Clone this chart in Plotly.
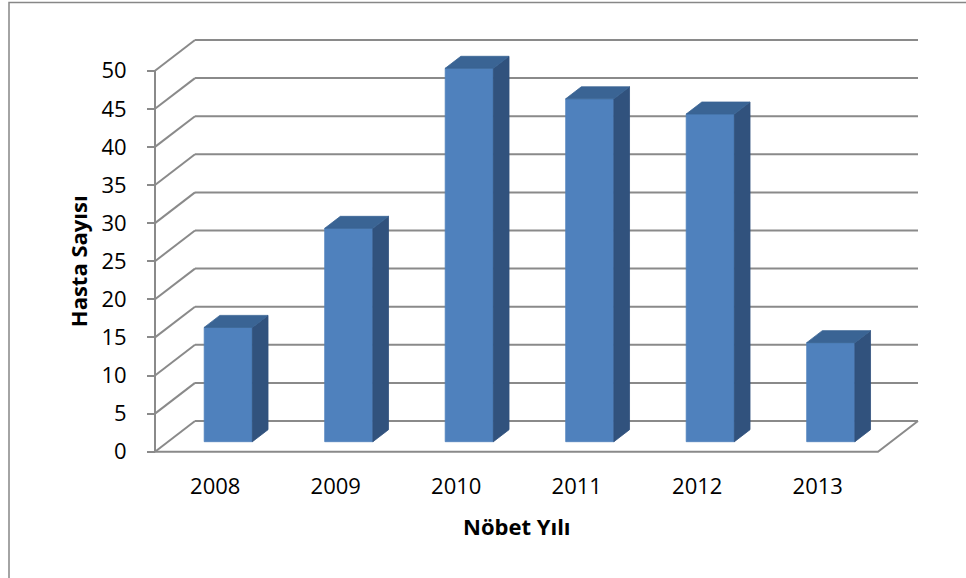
import plotly.graph_objects as go

# Data
years = ["2008", "2009", "2010", "2011", "2012", "2013"]
patients = [15, 28, 49, 45, 43, 13]
y_ticks = list(range(0, 55, 5))
x_title = "Nöbet Yılı"
y_title = "Hasta Sayısı"

# Canvas / scale setup (pixels per data unit) for an oblique 3D look
W, H = 966, 578
ML, MR, MT, MB = 143, 34, 36, 123
PX_X = 120.5          # pixels per category
PX_Y = 7.62           # pixels per patient
ORIGIN_X, ORIGIN_Y = 155, 451.7   # pixel position of (0, 0) on the front plane
plot_w = W - ML - MR
plot_h = H - MT - MB
x0 = (ML - ORIGIN_X) / PX_X
x1 = x0 + plot_w / PX_X
y0 = -((H - MB) - ORIGIN_Y) / PX_Y
y1 = y0 + plot_h / PX_Y

DX = 40 / PX_X        # depth offset, x
DY = 30.7 / PX_Y      # depth offset, y
D0, D1 = 0.326, 0.717 # bar depth (fraction of floor depth)
BAR_W = 0.40

GRID = "#8a8a8a"
FRONT = "#4f81bd"
SIDE = "#31527d"
TOP = "#3a6494"
FONT = "Open Sans"

n = len(years)


def proj(x, y, d):
    return x + d * DX, y + d * DY


fig = go.Figure()

# Walls, floor and axis line
gx, gy = [], []
for v in y_ticks:
    # back wall
    ax, ay = proj(0, v, 1)
    bx, by = proj(n, v, 1)
    gx += [ax, bx, None]
    gy += [ay, by, None]
    # side wall
    gx += [0, ax, None]
    gy += [v, ay, None]
# floor front and right edges
fx, fy = proj(n, 0, 1)
gx += [0, n, fx, None]
gy += [0, 0, fy, None]
# vertical value axis
gx += [0, 0, None]
gy += [0, y_ticks[-1], None]
fig.add_trace(go.Scatter(x=gx, y=gy, mode="lines",
                         line=dict(color=GRID, width=2),
                         hoverinfo="skip", showlegend=False))

# Bars: front, side and top faces
for i, v in enumerate(patients):
    xl = i + 0.5 - BAR_W / 2
    xr = i + 0.5 + BAR_W / 2
    faces = [
        ([(xl, 0, D0), (xr, 0, D0), (xr, v, D0), (xl, v, D0)], FRONT),
        ([(xr, 0, D0), (xr, 0, D1), (xr, v, D1), (xr, v, D0)], SIDE),
        ([(xl, v, D0), (xr, v, D0), (xr, v, D1), (xl, v, D1)], TOP),
    ]
    for pts, col in faces:
        px, py = zip(*[proj(*p) for p in pts])
        fig.add_trace(go.Scatter(x=list(px) + [px[0]], y=list(py) + [py[0]],
                                 mode="lines", fill="toself", fillcolor=col,
                                 line=dict(color=col, width=0.8),
                                 hoverinfo="skip", showlegend=False))

# Axis titles
fig.add_annotation(x=n / 2, y=0, xref="x", yref="y", text=f"<b>{x_title}</b>",
                   showarrow=False, yshift=-74,
                   font=dict(family=FONT, size=22, color="#000000"))
fig.add_annotation(x=0, y=y_ticks[-1] / 2, xref="x", yref="y",
                   text=f"<b>{y_title}</b>", textangle=-90, showarrow=False,
                   xshift=-77, font=dict(family=FONT, size=22, color="#000000"))

# Chart border
fig.add_shape(type="rect", xref="paper", yref="paper",
              x0=(9 - ML) / plot_w, x1=(W + 5 - ML) / plot_w,
              y0=-(H + 5 - (H - MB)) / plot_h, y1=1 + (MT - 2.5) / plot_h,
              line=dict(color="#878787", width=1.5), layer="below")

fig.update_layout(
    width=W, height=H,
    margin=dict(l=ML, r=MR, t=MT, b=MB, autoexpand=False),
    paper_bgcolor="white", plot_bgcolor="white",
    font=dict(family=FONT, size=22, color="#000000"),
    xaxis=dict(range=[x0, x1], showgrid=False, zeroline=False, showline=False,
               tickmode="array", tickvals=[i + 0.5 for i in range(n)],
               ticktext=years, ticks="", ticklabelstandoff=16,
               tickfont=dict(family=FONT, size=22, color="#000000"),
               automargin=False, fixedrange=True),
    yaxis=dict(range=[y0, y1], showgrid=False, zeroline=False, showline=False,
               anchor="free", position=(ORIGIN_X - ML) / plot_w,
               tickmode="array", tickvals=y_ticks,
               ticks="outside", ticklen=8, tickwidth=2, tickcolor=GRID,
               ticklabelstandoff=16,
               tickfont=dict(family=FONT, size=22, color="#000000"),
               automargin=False, fixedrange=True),
)

fig.write_html("out.html")
